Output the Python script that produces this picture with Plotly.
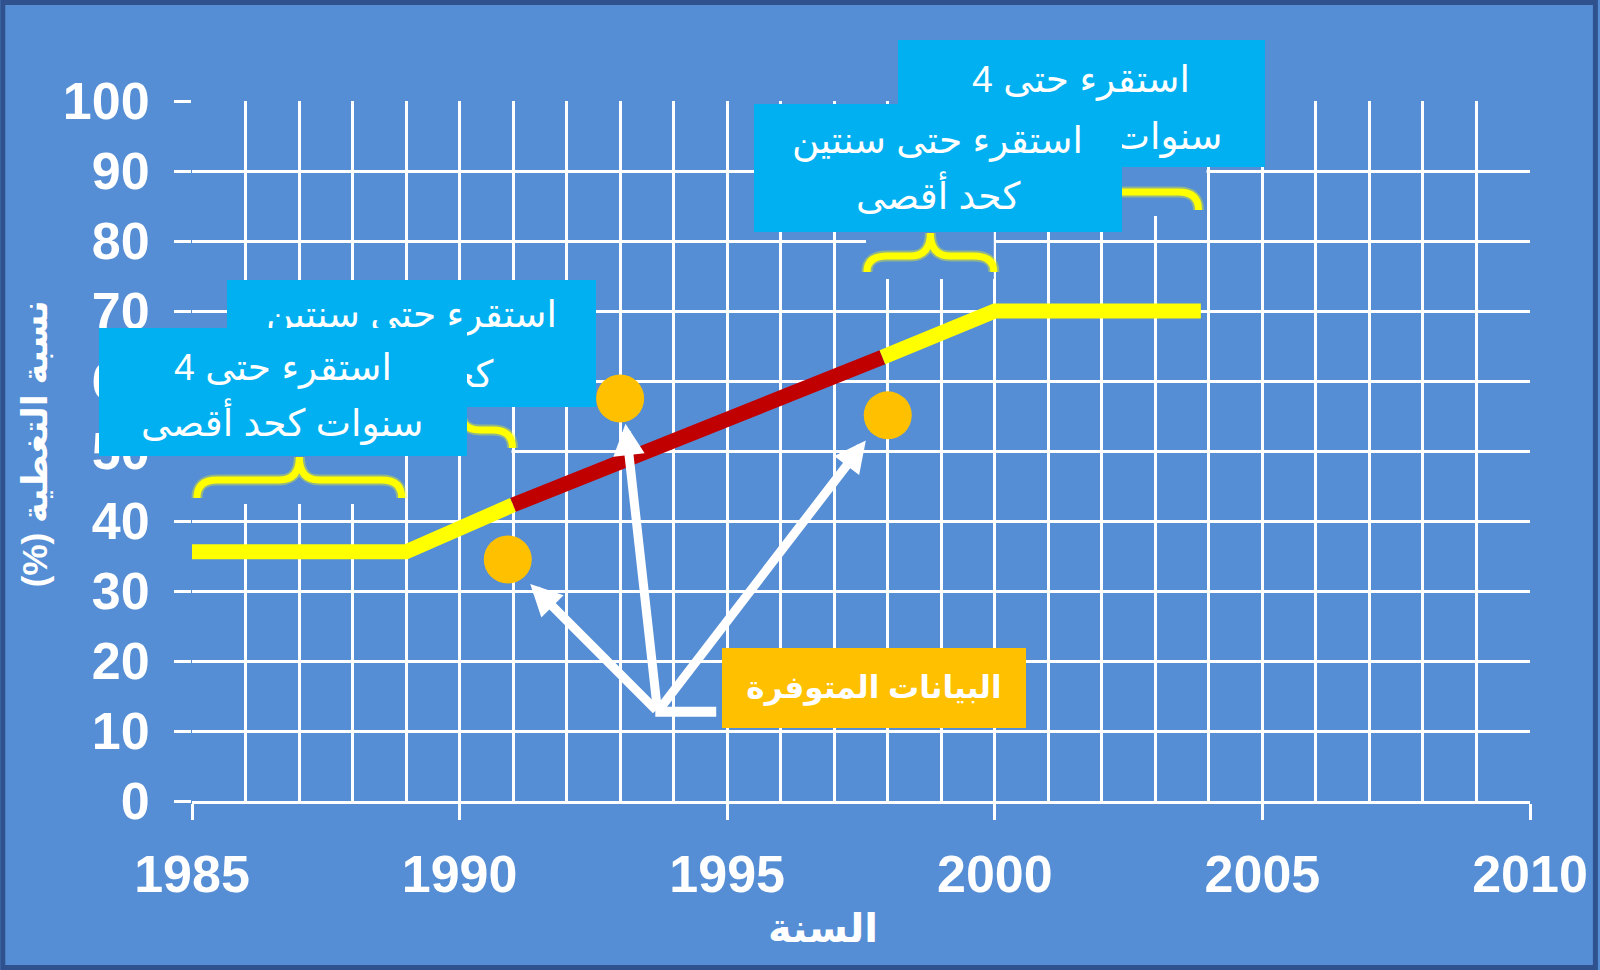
import plotly.graph_objects as go

# ---------------- data ----------------
trend_a_years = [1985, 1989, 1991]
trend_a_values = [35.6, 35.6, 42.3]
trend_red_years = [1991, 1997.9]
trend_red_values = [42.3, 63.4]
trend_b_years = [1997.9, 2000, 2003.85]
trend_b_values = [63.4, 70, 70]
obs_years = [1990.9, 1993, 1998]
obs_values = [34.5, 57.5, 55.1]
x_tick_vals = [1985, 1990, 1995, 2000, 2005, 2010]
y_tick_vals = [0, 10, 20, 30, 40, 50, 60, 70, 80, 90, 100]

txt_4y = ["استقرء حتى 4", "سنوات كحد أقصى"]
txt_2y = ["استقرء حتى سنتين", "كحد أقصى"]
txt_label = "البيانات المتوفرة"
x_title = "السنة"
y_title = "نسبة التغطية (%)\u200f"

# ---------------- layout helpers ----------------
W, H = 1600, 970
L, R, T, B = 192, 1532, 101, 801
BG = "#558ED5"
CYAN = "#00B0F0"
ORANGE = "#FFC000"
YELLOW = "#FFFF00"
RED = "#C00000"
FONT_AR = "Liberation Sans, DejaVu Sans, sans-serif"


def fx(px):
    return (px - L) / (R - L)


def fy(py):
    return (B - py) / (B - T)


fig = go.Figure()
line_w = 15
fig.add_trace(go.Scatter(x=trend_a_years, y=trend_a_values, mode="lines",
                         line=dict(color=YELLOW, width=line_w), hoverinfo="skip"))
fig.add_trace(go.Scatter(x=trend_red_years, y=trend_red_values, mode="lines",
                         line=dict(color=RED, width=line_w), hoverinfo="skip"))
fig.add_trace(go.Scatter(x=trend_b_years, y=trend_b_values, mode="lines",
                         line=dict(color=YELLOW, width=line_w), hoverinfo="skip"))
fig.add_trace(go.Scatter(x=obs_years, y=obs_values, mode="markers",
                         marker=dict(color=ORANGE, size=48, line=dict(width=0)),
                         hoverinfo="skip"))

shapes = []
# blue patches behind braces
for (x0, x1, y0, y1) in [(194, 404, 456, 504), (466, 512, 405, 453),
                         (867, 995, 232, 279), (1123, 1208, 167, 216)]:
    shapes.append(dict(type="rect", xref="paper", yref="paper",
                       x0=fx(x0), x1=fx(x1), y0=fy(y1), y1=fy(y0),
                       fillcolor=BG, line=dict(width=0), layer="above"))


def brace_path(x0, x1, yc, yl, yb, r=20):
    xc = (x0 + x1) / 2
    def p(x, y):
        return f"{fx(x):.5f},{fy(y):.5f}"
    return (f"M{p(x0, yb)} Q{p(x0, yl)} {p(x0 + r, yl)} L{p(xc - r, yl)} "
            f"Q{p(xc, yl)} {p(xc, yc)} Q{p(xc, yl)} {p(xc + r, yl)} "
            f"L{p(x1 - r, yl)} Q{p(x1, yl)} {p(x1, yb)}")


for (x0, x1, yc, yl, yb) in [(197, 402, 457, 480, 498), (407, 513, 407, 430, 448),
                             (868, 995, 233, 256, 272), (977, 1200, 168, 192, 210)]:
    path = brace_path(x0, x1, yc, yl, yb)
    shapes.append(dict(type="path", xref="paper", yref="paper", path=path,
                       line=dict(color="rgba(255,255,0,0.35)", width=11), layer="above"))
    shapes.append(dict(type="path", xref="paper", yref="paper", path=path,
                       line=dict(color=YELLOW, width=7), layer="above"))

# short horizontal bar from the arrow vertex to the label box
shapes.append(dict(type="line", xref="paper", yref="paper",
                   x0=fx(656), x1=fx(717), y0=fy(711.7), y1=fy(711.7),
                   line=dict(color="white", width=10), layer="above"))
# outer frame
shapes.append(dict(type="rect", xref="paper", yref="paper",
                   x0=fx(2.5), x1=fx(W - 2.5), y0=fy(H - 2.5), y1=fy(2.5),
                   line=dict(color="#2F528F", width=5), fillcolor="rgba(0,0,0,0)",
                   layer="above"))

ann = []
BOX_FONT = 37.5


def add_box(x0, y0, x1, y1, color, lines=None, line_centers=None, size=BOX_FONT):
    ann.append(dict(xref="paper", yref="paper", x=fx((x0 + x1) / 2), y=fy((y0 + y1) / 2),
                    xanchor="center", yanchor="middle", text=" ", showarrow=False,
                    width=x1 - x0, height=y1 - y0, bgcolor=color,
                    borderpad=0, borderwidth=0))
    if lines:
        for t, cy in zip(lines, line_centers):
            ann.append(dict(xref="paper", yref="paper", x=fx((x0 + x1) / 2), y=fy(cy),
                            xanchor="center", yanchor="middle", text=t, showarrow=False,
                            font=dict(family=FONT_AR, size=size, color="white")))


add_box(899, 40, 1266, 167, CYAN, txt_4y, [79, 134])
add_box(755, 104, 1123, 232, CYAN, txt_2y, [140, 194])
add_box(227, 280, 596, 407, CYAN, txt_2y, [314, 372])
add_box(99, 328, 467, 456, CYAN, txt_4y, [367, 421])

# label box
ann.append(dict(xref="paper", yref="paper", x=fx(875), y=fy(688),
                xanchor="center", yanchor="middle", text=txt_label, showarrow=False,
                width=304, height=80, bgcolor=ORANGE, borderpad=0, borderwidth=0,
                font=dict(family=FONT_AR, size=31, color="white", weight="bold")))

# arrows
tail = (1993.70, 12.76)
for (tx, ty) in [(1991.32, 31.0), (1993.10, 53.9), (1997.59, 51.5)]:
    ann.append(dict(x=tx, y=ty, xref="x", yref="y", ax=tail[0], ay=tail[1],
                    axref="x", ayref="y", text="", showarrow=True, arrowhead=2,
                    arrowsize=0.7, arrowwidth=9, arrowcolor="white",
                    standoff=0, startstandoff=0))

# axis titles
ann.append(dict(xref="paper", yref="paper", x=fx(34), y=fy(444), text=y_title,
                textangle=-90, showarrow=False, xanchor="center", yanchor="middle",
                font=dict(family=FONT_AR, size=35, color="white", weight="bold")))
ann.append(dict(xref="paper", yref="paper", x=fx(824), y=fy(928), text=x_title,
                showarrow=False, xanchor="center", yanchor="middle",
                font=dict(family=FONT_AR, size=40, color="white", weight="bold")))

tickfont = dict(family="Liberation Sans, Arial, sans-serif", size=52, color="white",
                weight="bold")
fig.update_layout(
    width=W, height=H,
    margin=dict(l=L, r=W - R, t=T, b=H - B, pad=0),
    paper_bgcolor=BG, plot_bgcolor=BG,
    showlegend=False,
    shapes=shapes, annotations=ann,
    xaxis=dict(range=[1985, 2010], tickvals=x_tick_vals, ticks="outside", ticklen=16,
               tickwidth=2.5, tickcolor="white", showgrid=True, gridcolor="white",
               gridwidth=2.5, minor=dict(dtick=1, showgrid=True, gridcolor="white",
                                         gridwidth=2.5, ticks=""),
               showline=True, linecolor="white", linewidth=3, zeroline=False,
               tickfont=tickfont, ticklabelstandoff=10, fixedrange=True),
    yaxis=dict(range=[0, 100], tickvals=y_tick_vals, ticks="outside", ticklen=17,
               tickwidth=2.5, tickcolor="white", showgrid=True, gridcolor="white",
               gridwidth=2.5, showline=False, zeroline=False,
               tickfont=tickfont, ticklabelstandoff=14, fixedrange=True),
)

fig.write_html("out.html", config={"displayModeBar": False},
               post_script="document.body.style.margin='0';"
                           "document.body.style.overflow='hidden';")
